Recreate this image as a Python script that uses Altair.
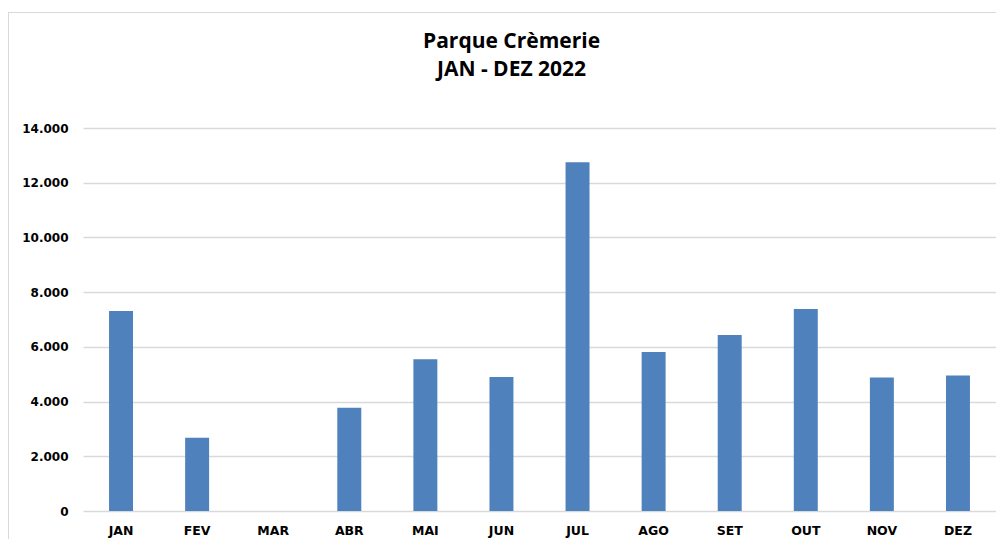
import altair as alt
import pandas as pd

months = ["JAN", "FEV", "MAR", "ABR", "MAI", "JUN", "JUL", "AGO", "SET", "OUT", "NOV", "DEZ"]
values = [7310, 2680, 0, 3770, 5550, 4900, 12750, 5810, 6430, 7380, 4880, 4950]
y_ticks = [0, 2000, 4000, 6000, 8000, 10000, 12000, 14000]

df = pd.DataFrame({"mes": months, "valor": values})

W, H = 913, 383

bars = alt.Chart(df).mark_bar(color="#4f81bd").encode(
    x=alt.X("mes:N", sort=months, title=None,
            scale=alt.Scale(paddingInner=0.685, paddingOuter=0.3425),
            axis=alt.Axis(labelAngle=0, labelFont="DejaVu Sans", labelFontWeight="bold",
                          labelFontSize=12.5, labelColor="#000000", labelPadding=13,
                          ticks=False, domain=False, grid=False)),
    y=alt.Y("valor:Q", title=None,
            scale=alt.Scale(domain=[0, 14000], nice=False),
            axis=alt.Axis(values=y_ticks, labelExpr="replace(format(datum.value, ','), ',', '.')",
                          labelFont="DejaVu Sans", labelFontWeight="bold", labelFontSize=12,
                          labelColor="#000000", labelPadding=15, ticks=False, domain=False,
                          grid=True, gridColor="#d9d9d9", gridWidth=1.3)),
)

frame_top = alt.Chart(df).mark_rule(color="#d9d9d9", strokeWidth=1).encode(
    x=alt.value(-74.5), x2=alt.value(W + 10), y=alt.value(-115.5)
)
frame_left = alt.Chart(df).mark_rule(color="#d9d9d9", strokeWidth=1).encode(
    x=alt.value(-74.5), y=alt.value(-115.5), y2=alt.value(H + 40)
)

chart = alt.layer(frame_top, frame_left, bars).properties(
    width=W, height=H,
    title=alt.TitleParams(
        text=["Parque Crèmerie", "JAN - DEZ 2022"],
        font="Open Sans", fontSize=21, fontWeight="bold", color="#000000",
        anchor="middle", frame="group", dx=-28, offset=-68, lineHeight=28,
    ),
    autosize=alt.AutoSizeParams(type="none"),
    padding={"left": 75, "top": 120, "right": 0, "bottom": 28},
).configure_view(stroke=None)

chart.save("out.html", embed_options={"renderer": "svg", "actions": False})
